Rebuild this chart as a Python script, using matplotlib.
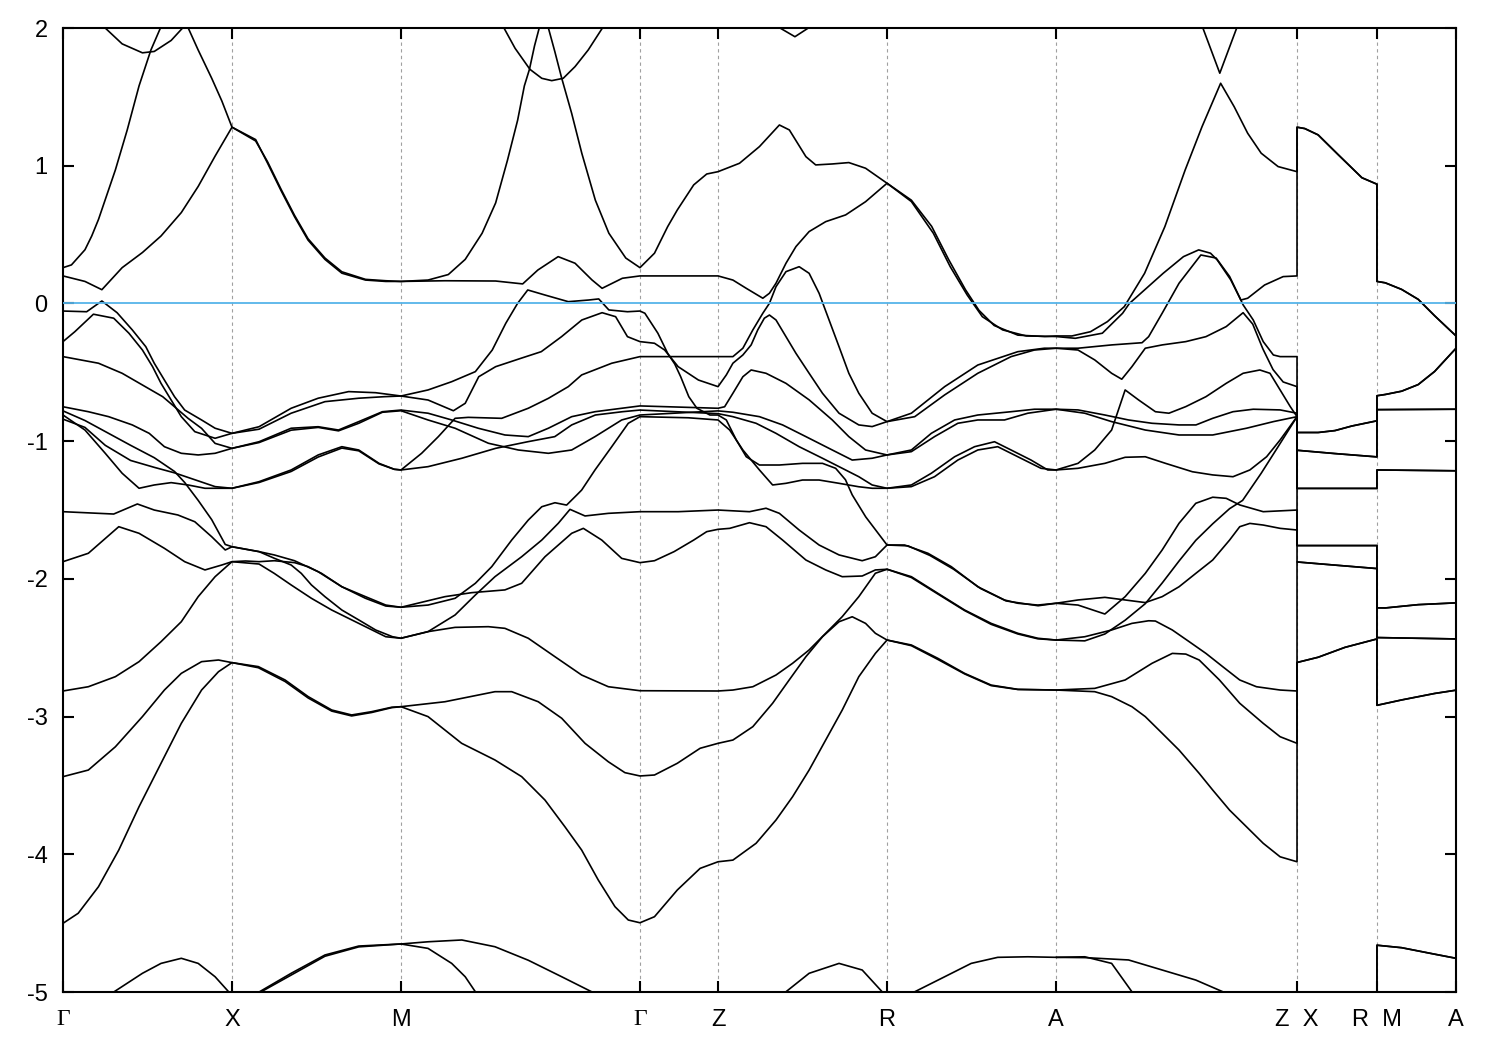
import matplotlib
matplotlib.use('Agg')
import matplotlib.pyplot as plt

plt.rcParams['font.family'] = ['Liberation Sans', 'DejaVu Sans']
plt.rcParams['axes.unicode_minus'] = False

# high-symmetry points along the path (units of 2pi/a)
k_points = [0.0, 1.0, 2.0, 3.414, 3.876, 4.876, 5.876, 7.302, 7.775, 8.243]
k_labels = ['Γ', 'X', 'M', 'Γ', 'Z', 'R', 'A', 'Z  X', 'R  M', 'A']

# bands along Γ-X-M-Γ-Z-R-A-Z, as (k, E) pairs, E in eV
band01 = [(0.0, 0.26), (0.05, 0.28), (0.13, 0.39), (0.17, 0.49), (0.21, 0.61), (0.31, 0.97),
          (0.38, 1.26), (0.45, 1.58), (0.52, 1.84), (0.58, 2.01), (0.60, 2.12)]
band02 = [(0.22, 2.08), (0.25, 2.0), (0.35, 1.885), (0.47, 1.82), (0.54, 1.83), (0.64, 1.91),
          (0.73, 2.03), (0.80, 1.84), (0.88, 1.635), (0.94, 1.47), (1.0, 1.28), (1.14, 1.19),
          (1.21, 1.02), (1.29, 0.82), (1.37, 0.63), (1.45, 0.46), (1.55, 0.32), (1.65, 0.22),
          (1.79, 0.17), (1.91, 0.16), (2.0, 0.16), (2.16, 0.17), (2.28, 0.21), (2.38, 0.32),
          (2.48, 0.51), (2.56, 0.73), (2.63, 1.04), (2.69, 1.33), (2.73, 1.58), (2.76, 1.70),
          (2.79, 1.87), (2.82, 2.01), (2.84, 2.15)]
band03 = [(0.0, 0.20), (0.13, 0.16), (0.23, 0.10), (0.35, 0.26), (0.47, 0.37), (0.58, 0.49),
          (0.70, 0.66), (0.80, 0.85), (0.90, 1.07), (1.0, 1.28), (1.14, 1.18), (1.21, 1.03),
          (1.29, 0.83), (1.37, 0.64), (1.45, 0.47), (1.55, 0.33), (1.65, 0.23), (1.79, 0.175),
          (1.91, 0.165), (2.0, 0.16), (2.26, 0.165), (2.56, 0.163), (2.72, 0.142), (2.81, 0.243),
          (2.93, 0.34), (3.03, 0.292), (3.13, 0.171), (3.19, 0.11), (3.31, 0.183), (3.414, 0.20),
          (3.876, 0.20), (3.964, 0.17), (4.043, 0.11), (4.141, 0.038), (4.18, 0.074),
          (4.219, 0.147), (4.278, 0.292), (4.337, 0.413), (4.415, 0.522), (4.513, 0.594),
          (4.631, 0.643), (4.749, 0.739), (4.876, 0.873), (5.02, 0.75), (5.14, 0.56),
          (5.24, 0.32), (5.34, 0.10), (5.42, -0.05), (5.51, -0.16), (5.65, -0.23), (5.81, -0.24),
          (5.876, -0.236), (5.97, -0.236), (6.08, -0.205), (6.18, -0.132), (6.28, -0.023),
          (6.40, 0.219), (6.52, 0.558), (6.64, 0.969), (6.74, 1.284), (6.85, 1.599),
          (6.93, 1.429), (7.01, 1.236), (7.09, 1.091), (7.19, 0.994), (7.302, 0.957)]
band04 = [(2.85, 2.12), (2.87, 2.01), (2.91, 1.83), (2.95, 1.64), (3.01, 1.38), (3.07, 1.09),
          (3.15, 0.75), (3.23, 0.51), (3.33, 0.33), (3.414, 0.26), (3.50, 0.365), (3.578, 0.558),
          (3.635, 0.679), (3.732, 0.861), (3.809, 0.94), (3.876, 0.957), (4.003, 1.018),
          (4.121, 1.139), (4.239, 1.296), (4.298, 1.26), (4.396, 1.066), (4.454, 1.006),
          (4.552, 1.013), (4.65, 1.023), (4.749, 0.982), (4.876, 0.873), (5.02, 0.74),
          (5.15, 0.51), (5.25, 0.267), (5.35, 0.062), (5.44, -0.096), (5.56, -0.192),
          (5.70, -0.236), (5.876, -0.24), (5.99, -0.253), (6.15, -0.216), (6.27, -0.071),
          (6.31, 0.0), (6.51, 0.219), (6.63, 0.34), (6.72, 0.389), (6.79, 0.365), (6.83, 0.316),
          (6.91, 0.171), (6.97, 0.025), (7.01, 0.038), (7.11, 0.134), (7.22, 0.195), (7.302, 0.2)]
band05 = [(2.59, 2.12), (2.605, 2.01), (2.675, 1.853), (2.763, 1.70), (2.833, 1.635),
          (2.892, 1.618), (2.96, 1.635), (3.03, 1.72), (3.108, 1.841), (3.197, 2.01), (3.21, 2.12)]
band06 = [(4.22, 2.10), (4.243, 2.0), (4.331, 1.937), (4.41, 2.0), (4.43, 2.10)]
band07 = [(6.72, 2.12), (6.745, 2.0), (6.845, 1.672), (6.945, 2.0), (6.97, 2.12)]
band08 = [(0.0, -0.277), (0.07, -0.205), (0.18, -0.078), (0.30, -0.107), (0.39, -0.216),
          (0.47, -0.338), (0.53, -0.459), (0.58, -0.58), (0.64, -0.701), (0.70, -0.822),
          (0.78, -0.931), (0.90, -0.979), (1.0, -0.943), (1.16, -0.913), (1.35, -0.797),
          (1.55, -0.713), (1.75, -0.688), (1.90, -0.677), (2.0, -0.672), (2.16, -0.701),
          (2.31, -0.779), (2.38, -0.725), (2.46, -0.532), (2.56, -0.459), (2.71, -0.398),
          (2.83, -0.35), (2.95, -0.241), (3.07, -0.12), (3.19, -0.067), (3.27, -0.096),
          (3.34, -0.241), (3.414, -0.277), (3.50, -0.289), (3.56, -0.338), (3.64, -0.459),
          (3.76, -0.556), (3.876, -0.604), (3.925, -0.519), (3.964, -0.434), (4.023, -0.374),
          (4.072, -0.301), (4.111, -0.192), (4.15, -0.107), (4.18, -0.084), (4.219, -0.12),
          (4.278, -0.241), (4.337, -0.362), (4.415, -0.507), (4.494, -0.652), (4.592, -0.797),
          (4.709, -0.882), (4.788, -0.894), (4.876, -0.858), (5.02, -0.797), (5.217, -0.604),
          (5.413, -0.447), (5.65, -0.35), (5.807, -0.325), (5.876, -0.325), (6.006, -0.325),
          (6.205, -0.301), (6.385, -0.285), (6.424, -0.241), (6.504, -0.071), (6.604, 0.147),
          (6.733, 0.352), (6.823, 0.33), (6.903, 0.196), (6.983, -0.01), (7.043, -0.12),
          (7.102, -0.277), (7.162, -0.374), (7.202, -0.386), (7.302, -0.386)]
band09 = [(0.0, -0.386), (0.21, -0.434), (0.35, -0.507), (0.47, -0.592), (0.59, -0.677),
          (0.66, -0.75), (0.74, -0.834), (0.82, -0.907), (0.90, -1.016), (1.0, -1.052),
          (1.16, -1.004), (1.35, -0.906), (1.51, -0.895), (1.63, -0.919), (1.75, -0.858),
          (1.89, -0.786), (2.0, -0.774), (2.16, -0.797), (2.30, -0.846), (2.457, -0.906),
          (2.615, -0.955), (2.753, -0.967), (2.872, -0.906), (3.01, -0.822), (3.148, -0.786),
          (3.306, -0.761), (3.414, -0.744), (3.876, -0.761), (3.915, -0.75), (3.964, -0.652),
          (4.023, -0.532), (4.072, -0.483), (4.16, -0.507), (4.278, -0.58), (4.415, -0.70),
          (4.552, -0.846), (4.65, -0.967), (4.749, -1.064), (4.876, -1.10), (5.02, -1.064),
          (5.138, -0.943), (5.276, -0.846), (5.413, -0.81), (5.61, -0.786), (5.748, -0.768),
          (5.876, -0.768), (6.006, -0.773), (6.165, -0.81), (6.305, -0.846), (6.444, -0.87),
          (6.604, -0.882), (6.704, -0.882), (6.803, -0.834), (6.923, -0.786), (7.043, -0.768),
          (7.202, -0.773), (7.302, -0.797)]
band10 = [(0.0, -0.75), (0.15, -0.786), (0.27, -0.822), (0.41, -0.882), (0.51, -0.943),
          (0.60, -1.04), (0.70, -1.088), (0.80, -1.10), (0.90, -1.088), (1.0, -1.052),
          (1.16, -1.01), (1.35, -0.92), (1.51, -0.90), (1.63, -0.925), (1.75, -0.87),
          (1.89, -0.79), (2.0, -0.779), (2.16, -0.846), (2.32, -0.906), (2.517, -1.015),
          (2.694, -1.064), (2.872, -1.088), (3.01, -1.064), (3.148, -0.967), (3.306, -0.846),
          (3.414, -0.81), (3.876, -0.78), (3.964, -0.79), (4.121, -0.822), (4.258, -0.882),
          (4.396, -0.967), (4.552, -1.064), (4.67, -1.137), (4.788, -1.124), (4.876, -1.10),
          (5.02, -1.076), (5.157, -0.967), (5.295, -0.87), (5.413, -0.846), (5.571, -0.846),
          (5.709, -0.797), (5.876, -0.768), (6.046, -0.797), (6.205, -0.858), (6.404, -0.919),
          (6.604, -0.955), (6.803, -0.955), (7.003, -0.906), (7.162, -0.858), (7.302, -0.822)]
band11 = [(0.0, -0.81), (0.13, -0.919), (0.25, -1.088), (0.35, -1.233), (0.45, -1.342),
          (0.54, -1.318), (0.64, -1.301), (0.74, -1.318), (0.84, -1.342), (1.0, -1.342),
          (1.16, -1.294), (1.35, -1.209), (1.51, -1.10), (1.65, -1.04), (1.75, -1.064),
          (1.87, -1.161), (1.96, -1.204), (2.0, -1.209), (2.16, -1.185), (2.36, -1.124),
          (2.56, -1.052), (2.75, -1.004), (2.91, -0.967), (3.01, -0.882), (3.15, -0.81),
          (3.31, -0.786), (3.414, -0.774), (3.876, -0.80), (3.964, -0.822), (4.101, -0.87),
          (4.219, -0.943), (4.356, -1.04), (4.494, -1.124), (4.592, -1.185), (4.709, -1.258),
          (4.788, -1.318), (4.876, -1.342), (5.02, -1.318), (5.138, -1.233), (5.276, -1.113),
          (5.394, -1.04), (5.512, -1.004), (5.61, -1.064), (5.728, -1.137), (5.827, -1.209),
          (5.876, -1.209), (6.006, -1.161), (6.105, -1.064), (6.205, -0.919), (6.285, -0.628),
          (6.365, -0.701), (6.464, -0.786), (6.544, -0.797), (6.644, -0.749), (6.763, -0.677),
          (6.883, -0.58), (6.983, -0.507), (7.082, -0.483), (7.142, -0.507), (7.202, -0.628),
          (7.262, -0.749), (7.302, -0.822)]
band12 = [(0.0, -0.84), (0.13, -0.90), (0.25, -1.03), (0.40, -1.14), (0.54, -1.19),
          (0.66, -1.23), (0.78, -1.28), (0.90, -1.33), (1.0, -1.342), (1.16, -1.30),
          (1.35, -1.22), (1.51, -1.115), (1.65, -1.05), (1.75, -1.07), (1.87, -1.165),
          (1.96, -1.204), (2.0, -1.209), (2.122, -1.088), (2.221, -0.967), (2.32, -0.834),
          (2.398, -0.827), (2.596, -0.834), (2.753, -0.761), (2.872, -0.689), (2.99, -0.604),
          (3.069, -0.519), (3.247, -0.434), (3.414, -0.386), (3.876, -0.386), (3.964, -0.386),
          (4.023, -0.325), (4.082, -0.192), (4.141, -0.071), (4.18, 0.001), (4.219, 0.122),
          (4.278, 0.231), (4.356, 0.267), (4.415, 0.219), (4.474, 0.074), (4.533, -0.12),
          (4.592, -0.314), (4.65, -0.507), (4.709, -0.652), (4.788, -0.797), (4.876, -0.858),
          (5.04, -0.822), (5.217, -0.664), (5.413, -0.507), (5.61, -0.386), (5.748, -0.338),
          (5.876, -0.325), (6.006, -0.338), (6.105, -0.41), (6.205, -0.507), (6.265, -0.55),
          (6.325, -0.459), (6.404, -0.325), (6.504, -0.301), (6.644, -0.277), (6.763, -0.241),
          (6.883, -0.168), (6.983, -0.067), (7.04, -0.15), (7.10, -0.33), (7.16, -0.48),
          (7.22, -0.57), (7.302, -0.604)]
band13 = [(0.0, -0.78), (0.13, -0.85), (0.25, -0.93), (0.40, -1.03), (0.54, -1.12),
          (0.66, -1.22), (0.72, -1.30), (0.80, -1.43), (0.88, -1.57), (0.96, -1.75),
          (1.0, -1.766), (1.16, -1.802), (1.25, -1.826), (1.37, -1.868), (1.51, -1.948),
          (1.65, -2.057), (1.79, -2.141), (1.91, -2.197), (2.0, -2.206), (2.16, -2.19),
          (2.32, -2.141), (2.44, -2.032), (2.537, -1.911), (2.655, -1.718), (2.753, -1.573),
          (2.833, -1.476), (2.911, -1.447), (2.98, -1.464), (3.04, -1.391), (3.069, -1.355),
          (3.148, -1.209), (3.247, -1.04), (3.345, -0.87), (3.414, -0.822), (3.70, -0.83),
          (3.876, -0.846), (3.945, -0.919), (4.023, -1.064), (4.121, -1.209), (4.199, -1.318),
          (4.278, -1.306), (4.376, -1.282), (4.474, -1.282), (4.592, -1.306), (4.709, -1.331),
          (4.788, -1.342), (4.876, -1.342), (5.02, -1.33), (5.157, -1.258), (5.295, -1.137),
          (5.413, -1.064), (5.531, -1.04), (5.65, -1.113), (5.787, -1.197), (5.876, -1.209),
          (6.006, -1.197), (6.165, -1.161), (6.285, -1.117), (6.404, -1.113), (6.524, -1.161),
          (6.683, -1.222), (6.803, -1.245), (6.923, -1.258), (7.023, -1.209), (7.122, -1.113),
          (7.202, -0.991), (7.302, -0.822)]
band14 = [(0.0, -0.055), (0.14, -0.06), (0.23, 0.018), (0.32, -0.067), (0.41, -0.192),
          (0.49, -0.314), (0.54, -0.434), (0.60, -0.556), (0.66, -0.677), (0.72, -0.774),
          (0.82, -0.846), (0.90, -0.906), (1.0, -0.943), (1.16, -0.895), (1.35, -0.761),
          (1.51, -0.688), (1.69, -0.64), (1.85, -0.648), (2.0, -0.672), (2.16, -0.628),
          (2.30, -0.568), (2.44, -0.495), (2.54, -0.338), (2.62, -0.144), (2.69, 0.001),
          (2.75, 0.098), (2.85, 0.062), (2.99, 0.013), (3.11, 0.025), (3.17, 0.033),
          (3.23, -0.047), (3.34, -0.06), (3.414, -0.055), (3.443, -0.071), (3.52, -0.216),
          (3.578, -0.362), (3.62, -0.44), (3.655, -0.532), (3.703, -0.677), (3.751, -0.761),
          (3.828, -0.81), (3.876, -0.81), (3.925, -0.846), (3.984, -0.991), (4.043, -1.113),
          (4.121, -1.173), (4.239, -1.173), (4.376, -1.161), (4.494, -1.161), (4.572, -1.197),
          (4.63, -1.28), (4.67, -1.39), (4.75, -1.55), (4.876, -1.754), (4.98, -1.754),
          (5.118, -1.814), (5.256, -1.911), (5.413, -2.057), (5.571, -2.153), (5.65, -2.177),
          (5.768, -2.19), (5.876, -2.177), (6.006, -2.153), (6.165, -2.134), (6.285, -2.153),
          (6.404, -2.172), (6.504, -2.129), (6.604, -2.057), (6.703, -1.96), (6.803, -1.863),
          (6.903, -1.718), (6.963, -1.621), (7.023, -1.597), (7.102, -1.609), (7.202, -1.633),
          (7.302, -1.645)]
band15 = [(0.0, -1.512), (0.30, -1.529), (0.44, -1.456), (0.54, -1.50), (0.68, -1.536),
          (0.78, -1.585), (0.88, -1.694), (0.96, -1.79), (1.0, -1.767), (1.16, -1.802),
          (1.25, -1.85), (1.35, -1.899), (1.41, -1.96), (1.47, -2.044), (1.55, -2.129),
          (1.65, -2.226), (1.75, -2.298), (1.85, -2.371), (1.95, -2.42), (2.0, -2.431),
          (2.16, -2.383), (2.32, -2.262), (2.44, -2.117), (2.556, -1.984), (2.714, -1.839),
          (2.833, -1.718), (2.931, -1.596), (3.0, -1.495), (3.089, -1.543), (3.227, -1.524),
          (3.414, -1.512), (3.64, -1.512), (3.876, -1.50), (4.062, -1.512), (4.16, -1.487),
          (4.239, -1.524), (4.356, -1.645), (4.474, -1.754), (4.592, -1.826), (4.729, -1.868),
          (4.807, -1.839), (4.876, -1.754), (5.0, -1.76), (5.13, -1.83), (5.27, -1.93),
          (5.43, -2.07), (5.58, -2.16), (5.77, -2.195), (5.876, -2.177), (6.006, -2.19),
          (6.165, -2.255), (6.285, -2.129), (6.404, -1.96), (6.504, -1.79), (6.604, -1.596),
          (6.703, -1.451), (6.803, -1.407), (6.883, -1.415), (6.963, -1.463), (7.102, -1.512),
          (7.302, -1.50)]
band16 = [(0.0, -1.875), (0.15, -1.814), (0.33, -1.621), (0.45, -1.669), (0.60, -1.778),
          (0.72, -1.875), (0.84, -1.935), (0.94, -1.899), (1.0, -1.875), (1.08, -1.87),
          (1.16, -1.875), (1.25, -1.868), (1.37, -1.882), (1.45, -1.911), (1.53, -1.96),
          (1.65, -2.057), (1.79, -2.129), (1.91, -2.19), (2.0, -2.206), (2.26, -2.129),
          (2.418, -2.10), (2.615, -2.08), (2.714, -2.032), (2.852, -1.839), (3.01, -1.669),
          (3.079, -1.633), (3.188, -1.718), (3.306, -1.851), (3.414, -1.882), (3.50, -1.868),
          (3.616, -1.802), (3.732, -1.718), (3.809, -1.657), (3.876, -1.64), (3.945, -1.633),
          (4.062, -1.592), (4.16, -1.621), (4.258, -1.718), (4.396, -1.863), (4.513, -1.935),
          (4.611, -1.984), (4.729, -1.979), (4.807, -1.935), (4.876, -1.93), (5.02, -1.984),
          (5.177, -2.105), (5.335, -2.226), (5.492, -2.323), (5.65, -2.395), (5.768, -2.431),
          (5.876, -2.444), (6.046, -2.42), (6.205, -2.371), (6.325, -2.323), (6.424, -2.304),
          (6.464, -2.306), (6.564, -2.371), (6.664, -2.456), (6.763, -2.541), (6.863, -2.638),
          (6.963, -2.734), (7.062, -2.783), (7.202, -2.807), (7.302, -2.814)]
band17 = [(0.0, -2.814), (0.15, -2.783), (0.31, -2.71), (0.45, -2.601), (0.58, -2.456),
          (0.70, -2.311), (0.80, -2.129), (0.90, -1.984), (1.0, -1.875), (1.16, -1.892),
          (1.25, -1.96), (1.35, -2.044), (1.47, -2.141), (1.59, -2.226), (1.75, -2.323),
          (1.91, -2.42), (2.0, -2.431), (2.16, -2.383), (2.32, -2.352), (2.517, -2.347),
          (2.615, -2.359), (2.753, -2.431), (2.911, -2.565), (3.069, -2.698), (3.227, -2.783),
          (3.414, -2.812), (3.876, -2.814), (3.964, -2.807), (4.082, -2.783), (4.219, -2.698),
          (4.317, -2.613), (4.415, -2.516), (4.513, -2.395), (4.611, -2.274), (4.709, -2.129),
          (4.807, -1.959), (4.876, -1.93), (5.02, -1.99), (5.177, -2.11), (5.335, -2.23),
          (5.492, -2.33), (5.65, -2.40), (5.768, -2.435), (5.876, -2.444), (6.046, -2.45),
          (6.165, -2.40), (6.285, -2.30), (6.404, -2.18), (6.504, -2.03), (6.604, -1.87),
          (6.703, -1.72), (6.803, -1.60), (6.903, -1.49), (6.98, -1.43), (7.09, -1.233),
          (7.19, -1.04), (7.302, -0.822)]
band18 = [(0.0, -3.436), (0.15, -3.388), (0.31, -3.219), (0.47, -3.0), (0.60, -2.807),
          (0.70, -2.686), (0.82, -2.601), (0.92, -2.589), (1.0, -2.608), (1.156, -2.637),
          (1.314, -2.734), (1.451, -2.855), (1.59, -2.952), (1.708, -2.988), (1.827, -2.964),
          (1.945, -2.932), (2.0, -2.928), (2.26, -2.892), (2.556, -2.819), (2.655, -2.819),
          (2.812, -2.892), (2.951, -3.012), (3.089, -3.194), (3.227, -3.328), (3.325, -3.407),
          (3.414, -3.431), (3.50, -3.424), (3.635, -3.339), (3.77, -3.23), (3.876, -3.194),
          (3.964, -3.17), (4.082, -3.073), (4.199, -2.903), (4.297, -2.734), (4.396, -2.565),
          (4.494, -2.42), (4.592, -2.311), (4.67, -2.275), (4.749, -2.323), (4.807, -2.395),
          (4.876, -2.444), (5.02, -2.48), (5.177, -2.577), (5.335, -2.686), (5.492, -2.771),
          (5.65, -2.802), (5.876, -2.807), (6.105, -2.795), (6.285, -2.734), (6.444, -2.613),
          (6.564, -2.541), (6.644, -2.546), (6.723, -2.589), (6.843, -2.734), (6.963, -2.903),
          (7.102, -3.049), (7.202, -3.146), (7.302, -3.194)]
band19 = [(0.0, -4.501), (0.09, -4.428), (0.21, -4.235), (0.33, -3.969), (0.45, -3.654),
          (0.58, -3.339), (0.70, -3.049), (0.82, -2.807), (0.92, -2.674), (1.0, -2.608),
          (1.156, -2.645), (1.314, -2.745), (1.451, -2.865), (1.59, -2.96), (1.708, -2.995),
          (1.827, -2.97), (1.945, -2.935), (2.0, -2.928), (2.16, -3.0), (2.359, -3.194),
          (2.556, -3.315), (2.714, -3.436), (2.852, -3.606), (2.97, -3.80), (3.069, -3.969),
          (3.167, -4.186), (3.266, -4.38), (3.345, -4.477), (3.414, -4.497), (3.50, -4.453),
          (3.635, -4.259), (3.77, -4.102), (3.876, -4.054), (3.964, -4.042), (4.101, -3.92),
          (4.219, -3.751), (4.317, -3.582), (4.415, -3.388), (4.513, -3.17), (4.611, -2.952),
          (4.709, -2.71), (4.807, -2.541), (4.876, -2.444), (5.02, -2.485), (5.177, -2.585),
          (5.335, -2.69), (5.492, -2.775), (5.65, -2.803), (5.876, -2.807), (6.105, -2.819),
          (6.205, -2.855), (6.325, -2.928), (6.404, -3.0), (6.504, -3.121), (6.604, -3.243),
          (6.723, -3.412), (6.803, -3.533), (6.903, -3.679), (7.003, -3.80), (7.102, -3.92),
          (7.202, -4.018), (7.302, -4.054)]
band20 = [(0.27, -5.06), (0.30, -5.0), (0.47, -4.864), (0.58, -4.792), (0.70, -4.755),
          (0.80, -4.792), (0.90, -4.889), (0.98, -4.998), (1.0, -5.05), (1.16, -5.0),
          (1.35, -4.864), (1.55, -4.731), (1.75, -4.666), (2.0, -4.651), (2.16, -4.635),
          (2.36, -4.622), (2.556, -4.671), (2.753, -4.769), (2.951, -4.889), (3.128, -4.998),
          (3.16, -5.03)]
band21 = [(1.0, -5.08), (1.17, -5.0), (1.36, -4.87), (1.55, -4.74), (1.75, -4.672), (2.0, -4.651),
          (2.16, -4.683), (2.30, -4.792), (2.38, -4.889), (2.44, -4.998), (2.46, -5.05)]
band22 = [(4.25, -5.06), (4.278, -4.998), (4.415, -4.864), (4.592, -4.792), (4.729, -4.84),
          (4.847, -4.998), (4.87, -5.05)]
band23 = [(4.98, -5.06), (5.04, -4.998), (5.217, -4.889), (5.374, -4.792), (5.531, -4.748),
          (5.709, -4.744), (5.876, -4.748), (6.046, -4.744), (6.205, -4.792), (6.325, -4.998),
          (6.34, -5.05)]
band24 = [(5.876, -4.748), (6.046, -4.75), (6.305, -4.767), (6.504, -4.84), (6.703, -4.913),
          (6.863, -4.998), (6.89, -5.03)]

main_bands = [band01, band02, band03, band04, band05, band06, band07, band08, band09, band10,
              band11, band12, band13, band14, band15, band16, band17, band18, band19, band20,
              band21, band22, band23, band24]

# X-R and M-A: every band is twofold degenerate there
xr_bands = [
    [(7.302, 1.28), (7.348, 1.27), (7.427, 1.224), (7.546, 1.08), (7.686, 0.913), (7.775, 0.866)],
    [(7.302, -0.937), (7.427, -0.937), (7.527, -0.923), (7.626, -0.89), (7.775, -0.852)],
    [(7.302, -1.066), (7.527, -1.09), (7.775, -1.114)],
    [(7.302, -1.343), (7.775, -1.343)],
    [(7.302, -1.758), (7.775, -1.758)],
    [(7.302, -1.877), (7.527, -1.90), (7.775, -1.925)],
    [(7.302, -2.607), (7.427, -2.569), (7.586, -2.497), (7.775, -2.436)],
    [(7.302, -5.10), (7.775, -5.15)],
]
ma_bands = [
    [(7.775, 0.16), (7.824, 0.15), (7.921, 0.102), (8.019, 0.03), (8.116, -0.089), (8.243, -0.236)],
    [(7.775, -0.67), (7.824, -0.661), (7.921, -0.637), (8.019, -0.589), (8.116, -0.494), (8.243, -0.325)],
    [(7.775, -0.771), (8.243, -0.768)],
    [(7.775, -1.209), (8.243, -1.215)],
    [(7.775, -2.21), (7.824, -2.211), (8.019, -2.187), (8.243, -2.174)],
    [(7.775, -2.426), (8.243, -2.436)],
    [(7.775, -2.918), (7.921, -2.879), (8.116, -2.832), (8.243, -2.808)],
    [(7.775, -4.66), (7.921, -4.678), (8.116, -4.725), (8.243, -4.755)],
]


def attach(lines, pieces, k0):
    # join bands across a path break by energy order (as the band file does)
    ends = sorted([l for l in lines if abs(l[-1][0] - k0) < 1e-6], key=lambda l: -l[-1][1])
    pieces = sorted(pieces, key=lambda p: -p[0][1])
    for i, p in enumerate(pieces):
        if i < len(ends):
            ends[i].extend(p)
        else:
            lines.append(list(p))


lines = [list(b) for b in main_bands]
attach(lines, [b for b in xr_bands for _ in (0, 1)], k_points[7])
attach(lines, [b for b in ma_bands for _ in (0, 1)], k_points[8])

fig = plt.figure(figsize=(15, 10.5), dpi=100)
ax = fig.add_axes([0.042, 0.0552, 0.9287, 0.9181])

for x in k_points[1:-1]:
    ax.axvline(x, color='#a0a0a0', lw=0.8, ls=(0, (3, 3)), zorder=0)

for l in lines:
    k, e = zip(*l)
    ax.plot(k, e, color='black', lw=1.2, zorder=2,
            solid_joinstyle='round', solid_capstyle='round')

ax.axhline(0, color='#56b4e9', lw=1.3, zorder=3)

ax.set_xlim(k_points[0], k_points[-1])
ax.set_ylim(-5, 2)
ax.set_xticks(k_points)
ax.set_xticklabels(k_labels)
ax.set_yticks(range(-5, 3))
ax.tick_params(direction='in', length=8, width=1.5, top=True, right=True, labelsize=17)
ax.tick_params(axis='x', pad=12)
ax.tick_params(axis='y', pad=11)
for s in ax.spines.values():
    s.set_linewidth(1.5)
for t in ax.get_xticklabels():
    if t.get_text() == 'Γ':
        t.set_fontfamily(['Liberation Serif', 'DejaVu Serif'])

fig.savefig('out.png', dpi=100)
